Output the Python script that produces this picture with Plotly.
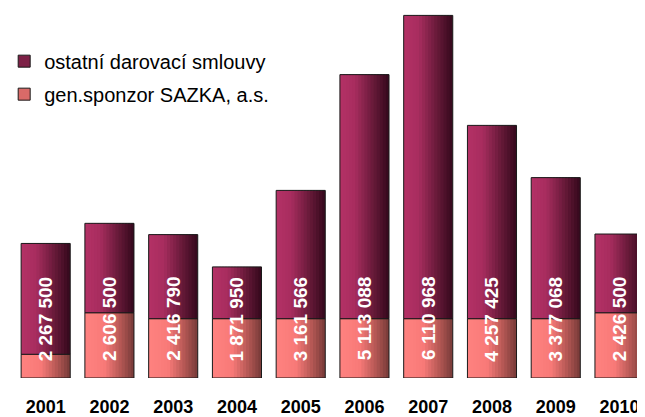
import plotly.graph_objects as go

years = ["2001", "2002", "2003", "2004", "2005", "2006", "2007", "2008", "2009", "2010"]
totals = [2267500, 2606500, 2416790, 1871950, 3161566, 5113088, 6110968, 4257425, 3377068, 2426500]
sazka = [400000, 1100000, 1000000, 1000000, 1000000, 1000000, 1000000, 1000000, 1000000, 1100000]
ostatni = [t - s for t, s in zip(totals, sazka)]

series_top_name = "ostatní darovací smlouvy"
series_bottom_name = "gen.sponzor SAZKA, a.s."

BAR_W = 0.77
N = 16
LABEL_Y = 1000000
FONT = "Liberation Sans, Arial, sans-serif"


def lerp(stops, t):
    for (t0, c0), (t1, c1) in zip(stops, stops[1:]):
        if t0 <= t <= t1:
            f = (t - t0) / (t1 - t0) if t1 > t0 else 0
            c = [round(a + (b - a) * f) for a, b in zip(c0, c1)]
            return "rgb(%d,%d,%d)" % tuple(c)
    c = stops[-1][1]
    return "rgb(%d,%d,%d)" % tuple(c)


top_stops = [(0.0, (180, 50, 102)), (0.3, (168, 45, 95)), (0.7, (100, 25, 55)), (1.0, (52, 8, 28))]
bot_stops = [(0.0, (255, 130, 128)), (0.4, (248, 122, 120)), (0.75, (175, 85, 82)), (1.0, (118, 58, 56))]

fig = go.Figure()

sw = BAR_W / N
for series, base, stops, name, rank in [
    (sazka, [0] * len(years), bot_stops, series_bottom_name, 2),
    (ostatni, sazka, top_stops, series_top_name, 1),
]:
    for i in range(N):
        t = (i + 0.5) / N
        col = lerp(stops, t)
        w = sw * 1.8 if i < N - 1 else sw
        fig.add_trace(go.Bar(
            x=years, y=series, base=base,
            width=w, offset=-BAR_W / 2 + i * sw,
            marker=dict(color=col, line=dict(width=0)),
            showlegend=False, hoverinfo="skip",
        ))
    # outline trace
    fig.add_trace(go.Bar(
        x=years, y=series, base=base, width=BAR_W,
        marker=dict(color="rgba(0,0,0,0)", line=dict(color="#1a1a1a", width=1)),
        showlegend=False, hoverinfo="skip",
    ))
    # legend entry
    fig.add_trace(go.Bar(
        x=[None], y=[None], name=name,
        marker=dict(color=lerp(stops, 0.55), line=dict(color="#1a1a1a", width=1)),
        legendgroup=name, legendrank=rank, showlegend=True,
    ))


def fmt(v):
    return "{:,}".format(v).replace(",", " ")


for idx, tot in enumerate(totals):
    fig.add_annotation(
        x=idx, y=LABEL_Y, text="<b>%s</b>" % fmt(tot), textangle=-90,
        showarrow=False, font=dict(family=FONT, size=19, color="white"),
        xanchor="center", yanchor="middle",
    )

fig.update_layout(
    width=637, height=409,
    margin=dict(l=0, r=0, t=0, b=39, autoexpand=False),
    barmode="overlay",
    plot_bgcolor="white", paper_bgcolor="white",
    showlegend=True,
    legend=dict(
        x=-0.006, y=0.909, xanchor="left", yanchor="top",
        traceorder="grouped", tracegroupgap=4,
        font=dict(family=FONT, size=20, color="black"),
        bgcolor="rgba(0,0,0,0)",
    ),
    xaxis=dict(
        type="category", range=[-0.591, 9.40],
        showgrid=False, showline=False, zeroline=False, ticks="",
        tickfont=dict(family=FONT, size=18, color="black", weight="bold"),
        ticklabelstandoff=16,
    ),
    yaxis=dict(
        range=[0, 6235600], showgrid=False, showline=False, zeroline=False,
        showticklabels=False, ticks="",
    ),
)

fig.write_html("out.html")
